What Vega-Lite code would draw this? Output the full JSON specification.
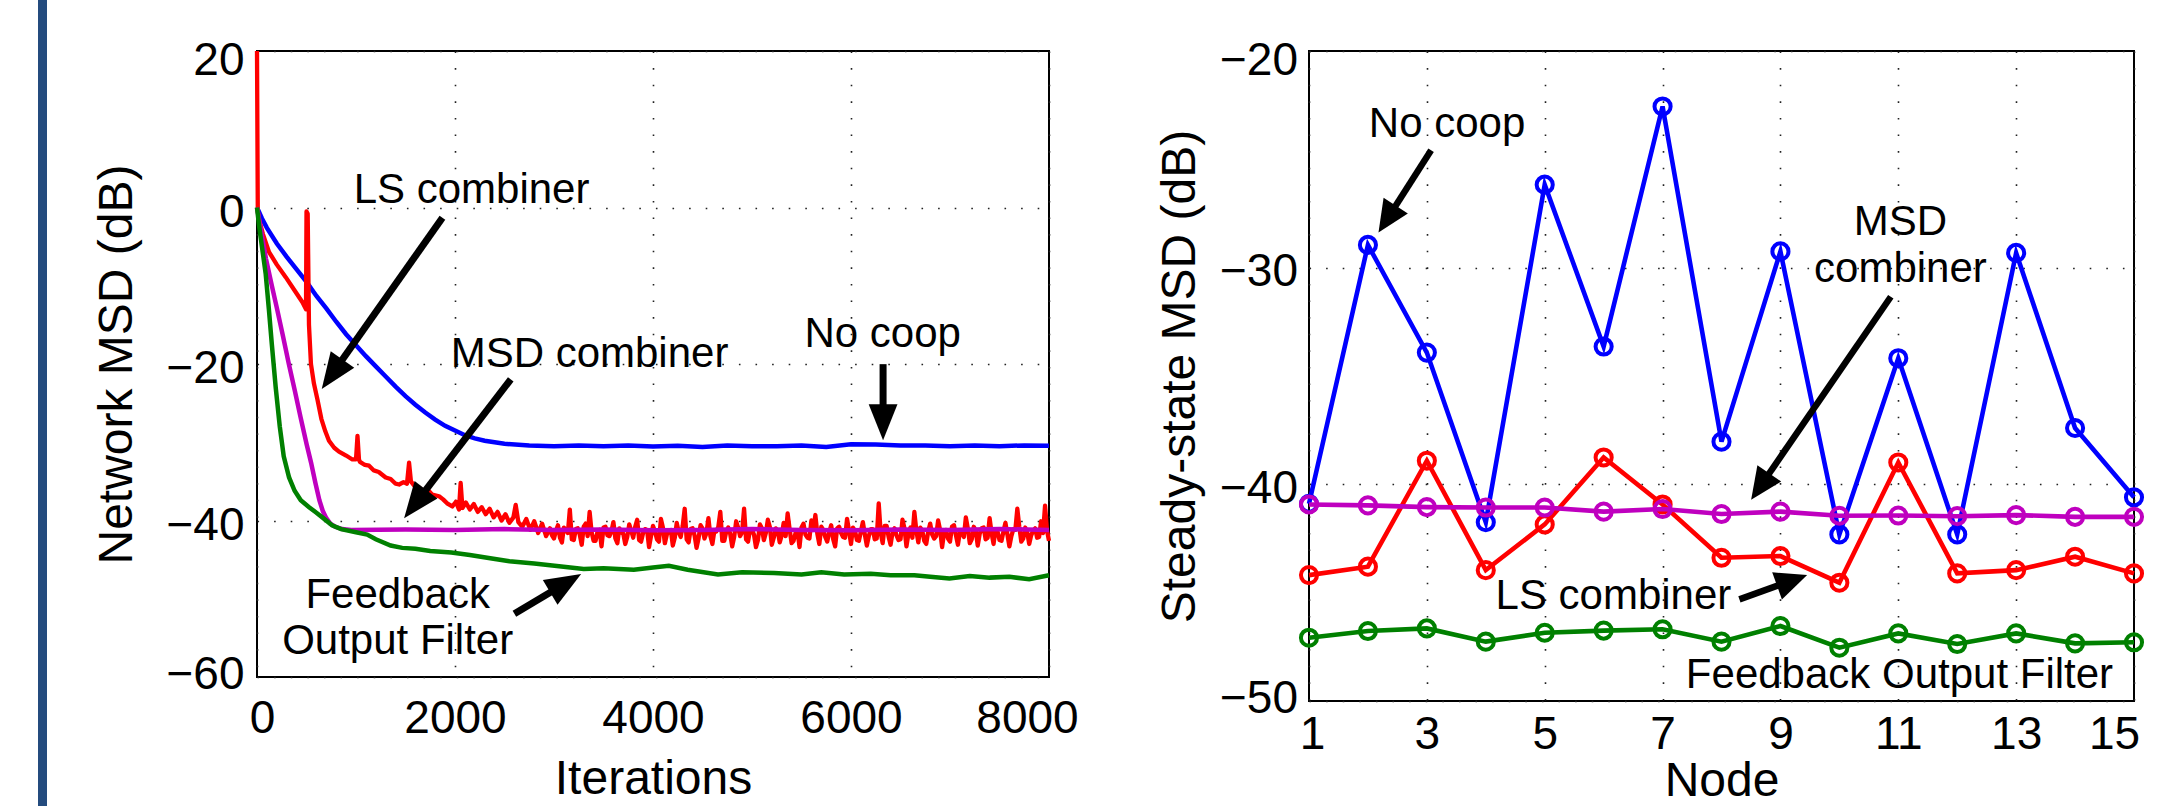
{
  "$schema": "https://vega.github.io/schema/vega-lite/v6.json",
  "background": "white",
  "padding": {"left": 38, "top": 0, "right": 0, "bottom": 0},
  "config": {
    "font": "Liberation Sans",
    "view": {"stroke": "black", "strokeWidth": 2},
    "axis": {
      "labelFont": "Liberation Sans", "titleFont": "Liberation Sans",
      "labelColor": "black", "titleColor": "black", "titleFontWeight": "normal",
      "labelFontSize": 46, "titleFontSize": 48, "domain": false, "ticks": false,
      "grid": true, "gridColor": "#222222", "gridWidth": 1.6, "gridDash": [1.6, 15], "gridOpacity": 1,
      "labelOverlap": false, "labelFlush": false, "labelBound": false
    }
  },
  "datasets": {
    "nc": [
      {"x":0,"y":0},{"x":50,"y":-1.4},{"x":100,"y":-2.6},{"x":200,"y":-4.6},{"x":300,"y":-6.3},{"x":400,"y":-7.9},{"x":500,"y":-9.5},{"x":600,"y":-11.3},{"x":700,"y":-12.9},{"x":800,"y":-14.6},{"x":900,"y":-16.2},{"x":1000,"y":-17.6},{"x":1100,"y":-19.0},{"x":1200,"y":-20.3},{"x":1300,"y":-21.6},{"x":1400,"y":-22.9},{"x":1500,"y":-24.1},{"x":1600,"y":-25.2},{"x":1700,"y":-26.2},{"x":1800,"y":-27.1},{"x":1900,"y":-27.9},{"x":2000,"y":-28.5},{"x":2100,"y":-29.1},{"x":2200,"y":-29.5},{"x":2300,"y":-29.8},{"x":2400,"y":-30.0},{"x":2500,"y":-30.2},{"x":2750,"y":-30.4},{"x":3000,"y":-30.5},{"x":3250,"y":-30.4},{"x":3500,"y":-30.5},{"x":3750,"y":-30.4},{"x":4000,"y":-30.55},{"x":4250,"y":-30.45},{"x":4500,"y":-30.6},{"x":4750,"y":-30.4},{"x":5000,"y":-30.5},{"x":5250,"y":-30.5},{"x":5500,"y":-30.4},{"x":5750,"y":-30.6},{"x":6000,"y":-30.25},{"x":6250,"y":-30.3},{"x":6500,"y":-30.4},{"x":6750,"y":-30.4},{"x":7000,"y":-30.5},{"x":7250,"y":-30.4},{"x":7500,"y":-30.5},{"x":7750,"y":-30.4},{"x":8000,"y":-30.45}
    ],
    "ls": [
      {"x":0,"y":20},{"x":8,"y":-0.5},{"x":20,"y":-1.5},{"x":60,"y":-3.4},{"x":122,"y":-5.7},{"x":200,"y":-7.3},{"x":290,"y":-8.9},{"x":380,"y":-10.6},{"x":459,"y":-12.1},{"x":495,"y":-13.0},{"x":500,"y":-0.5},{"x":512,"y":-0.8},{"x":525,"y":-15},{"x":545,"y":-20},{"x":575,"y":-22.5},{"x":610,"y":-24.5},{"x":650,"y":-27.0},{"x":690,"y":-28.6},{"x":727,"y":-29.8},{"x":780,"y":-30.7},{"x":828,"y":-31.2},{"x":900,"y":-31.7},{"x":963,"y":-32.2},{"x":1000,"y":-32.2},{"x":1015,"y":-29.2},{"x":1030,"y":-32.2},{"x":1040,"y":-32.5},{"x":1090,"y":-32.9},{"x":1132,"y":-33.0},{"x":1180,"y":-33.6},{"x":1230,"y":-33.8},{"x":1300,"y":-34.5},{"x":1350,"y":-34.7},{"x":1400,"y":-35.3},{"x":1435,"y":-35.4},{"x":1480,"y":-35.1},{"x":1515,"y":-35.3},{"x":1536,"y":-32.6},{"x":1555,"y":-35.0},{"x":1590,"y":-35.6},{"x":1637,"y":-35.8},{"x":1680,"y":-36.3},{"x":1720,"y":-36.0},{"x":1770,"y":-36.7},{"x":1839,"y":-36.9},{"x":1880,"y":-37.3},{"x":1920,"y":-37.8},{"x":1973,"y":-38.2},{"x":2010,"y":-37.6},{"x":2040,"y":-38.6},{"x":2057,"y":-35.2},{"x":2075,"y":-38.4},{"x":2110,"y":-37.7},{"x":2150,"y":-38.6},{"x":2190,"y":-37.9},{"x":2230,"y":-38.9},{"x":2270,"y":-38.3},{"x":2310,"y":-39.2},{"x":2350,"y":-38.5},{"x":2390,"y":-39.6},{"x":2430,"y":-38.9},{"x":2470,"y":-40.0},{"x":2510,"y":-39.2},{"x":2550,"y":-40.3},{"x":2590,"y":-39.6},{"x":2613,"y":-38.0},{"x":2640,"y":-40.2},{"x":2680,"y":-40.8},{"x":2720,"y":-39.8},{"x":2760,"y":-41.2},{"x":2800,"y":-40.1},{"x":2840,"y":-41.6},{"x":2880,"y":-40.4},{"x":2920,"y":-42.0},
      {"x":2960,"y":-41.0},{"x":3000,"y":-42.3},{"x":3040,"y":-40.6},{"x":3080,"y":-42.8},{"x":3120,"y":-41.2},{"x":3160,"y":-38.6},{"x":3200,"y":-42.5},{"x":3240,"y":-41.0},{"x":3280,"y":-43.1},{"x":3320,"y":-40.4},{"x":3360,"y":-38.9},{"x":3400,"y":-42.6},{"x":3440,"y":-41.4},{"x":3480,"y":-43.3},{"x":3520,"y":-40.8},{"x":3560,"y":-42.0},{"x":3600,"y":-40.2},{"x":3640,"y":-42.9},{"x":3680,"y":-41.5},{"x":3720,"y":-43.0},{"x":3760,"y":-40.5},{"x":3800,"y":-42.2},{"x":3840,"y":-39.9},{"x":3880,"y":-42.7},{"x":3920,"y":-41.1},{"x":3960,"y":-43.4},{"x":4000,"y":-40.7},{"x":4040,"y":-42.4},{"x":4080,"y":-39.8},{"x":4120,"y":-42.9},{"x":4160,"y":-41.3},{"x":4200,"y":-43.2},{"x":4240,"y":-40.3},{"x":4280,"y":-42.1},{"x":4320,"y":-38.5},{"x":4360,"y":-42.8},{"x":4400,"y":-41.0},{"x":4440,"y":-43.5},{"x":4480,"y":-40.6},{"x":4520,"y":-42.3},{"x":4560,"y":-39.7},{"x":4600,"y":-43.0},{"x":4640,"y":-41.4},{"x":4680,"y":-38.9},{"x":4720,"y":-42.6},{"x":4760,"y":-40.9},{"x":4800,"y":-43.3},{"x":4840,"y":-40.1},{"x":4880,"y":-42.0},{"x":4920,"y":-38.5},{"x":4960,"y":-42.7},{"x":5000,"y":-41.2},{"x":5040,"y":-43.4},{"x":5080,"y":-40.5},{"x":5120,"y":-42.5},{"x":5160,"y":-39.9},{"x":5200,"y":-43.1},{"x":5240,"y":-41.0},{"x":5280,"y":-42.8},{"x":5320,"y":-40.3},{"x":5360,"y":-39.1},{"x":5400,"y":-42.9},{"x":5440,"y":-41.6},{"x":5480,"y":-43.4},{"x":5520,"y":-40.4},{"x":5560,"y":-42.2},{"x":5600,"y":-40.0},{"x":5640,"y":-39.3},{"x":5680,"y":-43.0},{"x":5720,"y":-41.2},{"x":5760,"y":-42.7},{"x":5800,"y":-40.6},{"x":5840,"y":-43.3},{"x":5880,"y":-40.8},{"x":5920,"y":-42.1},{"x":5960,"y":-39.8},{"x":6000,"y":-43.0},{"x":6040,"y":-41.3},{"x":6080,"y":-42.6},{"x":6120,"y":-40.2},{"x":6160,"y":-43.2},{"x":6200,"y":-41.1},{"x":6240,"y":-42.4},{"x":6280,"y":-37.8},{"x":6320,"y":-42.9},{"x":6360,"y":-40.7},{"x":6400,"y":-43.1},{"x":6440,"y":-41.0},{"x":6480,"y":-42.5},{"x":6520,"y":-39.9},{"x":6560,"y":-43.3},{"x":6600,"y":-40.9},{"x":6640,"y":-38.9},{"x":6680,"y":-42.8},{"x":6720,"y":-41.3},{"x":6760,"y":-43.0},{"x":6800,"y":-40.4},{"x":6840,"y":-42.3},{"x":6880,"y":-40.0},{"x":6920,"y":-43.4},{"x":6960,"y":-41.2},{"x":7000,"y":-42.7},{"x":7040,"y":-40.6},{"x":7080,"y":-43.1},{"x":7120,"y":-41.5},{"x":7160,"y":-39.6},{"x":7200,"y":-42.9},{"x":7240,"y":-40.8},{"x":7280,"y":-43.2},{"x":7320,"y":-41.0},{"x":7360,"y":-42.4},{"x":7400,"y":-39.7},{"x":7440,"y":-43.0},{"x":7480,"y":-41.4},{"x":7520,"y":-42.6},{"x":7560,"y":-40.3},{"x":7600,"y":-43.3},{"x":7640,"y":-41.1},{"x":7680,"y":-38.5},{"x":7720,"y":-42.7},{"x":7760,"y":-40.9},{"x":7800,"y":-43.0},{"x":7840,"y":-41.3},{"x":7880,"y":-42.2},{"x":7920,"y":-40.1},{"x":7960,"y":-38.1},{"x":8000,"y":-42.6},
      {"x":2980,"y":-41.9},{"x":3020,"y":-41.3},{"x":3060,"y":-42.2},{"x":3100,"y":-40.9},{"x":3140,"y":-41.6},{"x":3180,"y":-42.4},{"x":3220,"y":-41.1},{"x":3260,"y":-41.8},{"x":3300,"y":-40.8},{"x":3340,"y":-42.0},{"x":3380,"y":-41.5},{"x":3420,"y":-42.6},{"x":3460,"y":-41.2},{"x":3500,"y":-40.9},{"x":3540,"y":-41.9},{"x":3580,"y":-41.4},{"x":3620,"y":-42.3},{"x":3660,"y":-41.0},{"x":3700,"y":-41.7},{"x":3740,"y":-42.1},{"x":3780,"y":-41.3},{"x":3820,"y":-40.8},{"x":3860,"y":-42.5},{"x":3900,"y":-41.6},{"x":3940,"y":-41.2},{"x":3980,"y":-42.0},{"x":4020,"y":-41.4},{"x":4060,"y":-42.7},{"x":4100,"y":-40.9},{"x":4140,"y":-41.8},{"x":4180,"y":-41.2},{"x":4220,"y":-42.2},{"x":4260,"y":-41.5},{"x":4300,"y":-40.7},{"x":4340,"y":-42.4},{"x":4380,"y":-41.1},{"x":4420,"y":-41.9},{"x":4460,"y":-42.3},{"x":4500,"y":-41.0},{"x":4540,"y":-41.6},{"x":4580,"y":-42.0},{"x":4620,"y":-41.3},{"x":4660,"y":-40.8},{"x":4700,"y":-42.6},{"x":4740,"y":-41.4},{"x":4780,"y":-41.7},{"x":4820,"y":-42.1},{"x":4860,"y":-40.9},{"x":4900,"y":-41.5},{"x":4940,"y":-42.4},{"x":4980,"y":-41.2},{"x":5020,"y":-41.8},{"x":5060,"y":-42.5},{"x":5100,"y":-41.0},{"x":5140,"y":-41.6},{"x":5180,"y":-40.8},{"x":5220,"y":-42.2},{"x":5260,"y":-41.3},{"x":5300,"y":-41.9},{"x":5340,"y":-42.0},{"x":5380,"y":-41.1},{"x":5420,"y":-42.6},{"x":5460,"y":-41.4},{"x":5500,"y":-40.9},{"x":5540,"y":-41.8},{"x":5580,"y":-42.3},{"x":5620,"y":-41.2},{"x":5660,"y":-41.7},{"x":5700,"y":-40.8},{"x":5740,"y":-42.1},{"x":5780,"y":-41.5},{"x":5820,"y":-42.4},{"x":5860,"y":-41.0},{"x":5900,"y":-41.6},{"x":5940,"y":-42.2},{"x":5980,"y":-41.3},{"x":6020,"y":-40.9},{"x":6060,"y":-42.5},{"x":6100,"y":-41.4},{"x":6140,"y":-41.8},{"x":6180,"y":-42.0},{"x":6220,"y":-41.1},{"x":6260,"y":-42.3},{"x":6300,"y":-41.6},{"x":6340,"y":-40.7},{"x":6380,"y":-42.1},{"x":6420,"y":-41.5},{"x":6460,"y":-41.9},{"x":6500,"y":-42.4},{"x":6540,"y":-41.0},{"x":6580,"y":-41.7},{"x":6620,"y":-42.2},{"x":6660,"y":-41.3},{"x":6700,"y":-40.9},{"x":6740,"y":-42.6},{"x":6780,"y":-41.4},{"x":6820,"y":-41.8},{"x":6860,"y":-42.0},{"x":6900,"y":-41.2},{"x":6940,"y":-41.6},{"x":6980,"y":-42.3},{"x":7020,"y":-40.8},{"x":7060,"y":-41.9},{"x":7100,"y":-41.5},{"x":7140,"y":-42.1},{"x":7180,"y":-41.0},{"x":7220,"y":-42.4},{"x":7260,"y":-41.3},{"x":7300,"y":-41.7},{"x":7340,"y":-40.9},{"x":7380,"y":-42.2},{"x":7420,"y":-41.6},{"x":7460,"y":-41.1},{"x":7500,"y":-42.5},{"x":7540,"y":-41.4},{"x":7580,"y":-41.8},{"x":7620,"y":-42.0},{"x":7660,"y":-41.2},{"x":7700,"y":-40.8},{"x":7740,"y":-42.3},{"x":7780,"y":-41.5},{"x":7820,"y":-41.9},{"x":7860,"y":-41.0},{"x":7900,"y":-42.1},{"x":7940,"y":-41.6},{"x":7980,"y":-41.3}
    ],
    "ms": [
      {"x":0,"y":0},{"x":30,"y":-2.2},{"x":90,"y":-6.5},{"x":150,"y":-10.0},{"x":200,"y":-12.8},{"x":260,"y":-16.3},{"x":320,"y":-19.9},{"x":380,"y":-23.3},{"x":440,"y":-26.8},{"x":500,"y":-30.2},{"x":546,"y":-32.6},{"x":590,"y":-35.2},{"x":630,"y":-37.4},{"x":665,"y":-38.8},{"x":700,"y":-39.7},{"x":740,"y":-40.4},{"x":790,"y":-40.8},{"x":860,"y":-41.1},{"x":950,"y":-41.2},{"x":1500,"y":-41.15},{"x":2000,"y":-41.2},{"x":2500,"y":-41.1},{"x":3000,"y":-41.2},{"x":3500,"y":-41.15},{"x":4000,"y":-41.25},{"x":4500,"y":-41.2},{"x":5000,"y":-41.1},{"x":5500,"y":-41.2},{"x":6000,"y":-41.25},{"x":6500,"y":-41.15},{"x":7000,"y":-41.2},{"x":7500,"y":-41.1},{"x":8000,"y":-41.2}
    ],
    "fb": [
      {"x":0,"y":0},{"x":20,"y":-2.2},{"x":50,"y":-5.0},{"x":88,"y":-8.5},{"x":120,"y":-13.0},{"x":150,"y":-17.5},{"x":189,"y":-23.0},{"x":230,"y":-28.0},{"x":270,"y":-31.8},{"x":324,"y":-34.5},{"x":380,"y":-36.2},{"x":442,"y":-37.4},{"x":526,"y":-38.3},{"x":600,"y":-39.0},{"x":660,"y":-39.6},{"x":758,"y":-40.6},{"x":850,"y":-41.1},{"x":1000,"y":-41.5},{"x":1113,"y":-41.8},{"x":1200,"y":-42.4},{"x":1350,"y":-43.2},{"x":1467,"y":-43.5},{"x":1600,"y":-43.6},{"x":1750,"y":-43.9},{"x":1963,"y":-44.1},{"x":2150,"y":-44.4},{"x":2388,"y":-44.9},{"x":2550,"y":-45.2},{"x":2800,"y":-45.5},{"x":3097,"y":-45.9},{"x":3300,"y":-46.2},{"x":3500,"y":-46.1},{"x":3806,"y":-46.3},{"x":4000,"y":-46.0},{"x":4160,"y":-45.8},{"x":4350,"y":-46.3},{"x":4656,"y":-46.9},{"x":4900,"y":-46.6},{"x":5223,"y":-46.7},{"x":5500,"y":-46.9},{"x":5700,"y":-46.6},{"x":5931,"y":-46.9},{"x":6200,"y":-46.8},{"x":6400,"y":-47.0},{"x":6640,"y":-47.0},{"x":6800,"y":-47.2},{"x":6994,"y":-47.4},{"x":7200,"y":-47.1},{"x":7400,"y":-47.3},{"x":7600,"y":-47.2},{"x":7800,"y":-47.5},{"x":8000,"y":-47.0}
    ],
    "leftText": [
      {"x":2167,"y":0.56,"label":"LS combiner"},
      {"x":3359,"y":-20.33,"label":"MSD combiner"},
      {"x":6320,"y":-17.87,"label":"No coop"},
      {"x":1421,"y":-51.22,"label":"Feedback"},
      {"x":1421,"y":-57.1,"label":"Output Filter"}
    ],
    "leftArrows": [
      {"x":1873,"y":-1.30,"x2":770,"y2":-21.10},
      {"x":2563,"y":-21.97,"x2":1609,"y2":-37.68},
      {"x":6324,"y":-20.02,"x2":6324,"y2":-27.18},
      {"x":2600,"y":-51.91,"x2":3100,"y2":-48.15}
    ],
    "n_nc": [
      {"x":1,"y":-40.9},{"x":2,"y":-28.95},{"x":3,"y":-33.92},{"x":4,"y":-41.75},{"x":5,"y":-26.17},{"x":6,"y":-33.64},{"x":7,"y":-22.56},{"x":8,"y":-38.03},{"x":9,"y":-29.25},{"x":10,"y":-42.31},{"x":11,"y":-34.18},{"x":12,"y":-42.31},{"x":13,"y":-29.32},{"x":14,"y":-37.40},{"x":15,"y":-40.60}
    ],
    "n_ls": [
      {"x":1,"y":-44.19},{"x":2,"y":-43.80},{"x":3,"y":-38.91},{"x":4,"y":-43.96},{"x":5,"y":-41.85},{"x":6,"y":-38.76},{"x":7,"y":-40.93},{"x":8,"y":-43.39},{"x":9,"y":-43.31},{"x":10,"y":-44.54},{"x":11,"y":-38.99},{"x":12,"y":-44.11},{"x":13,"y":-43.96},{"x":14,"y":-43.34},{"x":15,"y":-44.11}
    ],
    "n_ms": [
      {"x":1,"y":-40.93},{"x":2,"y":-40.97},{"x":3,"y":-41.05},{"x":4,"y":-41.07},{"x":5,"y":-41.07},{"x":6,"y":-41.26},{"x":7,"y":-41.14},{"x":8,"y":-41.37},{"x":9,"y":-41.26},{"x":10,"y":-41.45},{"x":11,"y":-41.44},{"x":12,"y":-41.47},{"x":13,"y":-41.42},{"x":14,"y":-41.50},{"x":15,"y":-41.50}
    ],
    "n_fb": [
      {"x":1,"y":-47.08},{"x":2,"y":-46.77},{"x":3,"y":-46.65},{"x":4,"y":-47.26},{"x":5,"y":-46.85},{"x":6,"y":-46.75},{"x":7,"y":-46.69},{"x":8,"y":-47.26},{"x":9,"y":-46.54},{"x":10,"y":-47.54},{"x":11,"y":-46.88},{"x":12,"y":-47.37},{"x":13,"y":-46.88},{"x":14,"y":-47.34},{"x":15,"y":-47.29}
    ],
    "rightText": [
      {"x":3.343,"y":-23.97,"label":"No coop"},
      {"x":11.036,"y":-28.50,"label":"MSD"},
      {"x":11.036,"y":-30.68,"label":"combiner"},
      {"x":6.166,"y":-45.77,"label":"LS combiner"},
      {"x":11.02,"y":-49.41,"label":"Feedback Output Filter"}
    ],
    "rightArrows": [
      {"x":3.072,"y":-24.585,"x2":2.362,"y2":-27.606},
      {"x":10.873,"y":-31.342,"x2":8.694,"y2":-39.949},
      {"x":8.304,"y":-45.309,"x2":9.135,"y2":-44.497}
    ]
  },
  "spacing": 45,
  "hconcat": [
    {
      "width": 9, "height": 806,
      "view": {"fill": "#244b7e", "stroke": null},
      "data": {"values": [{"k": 0}]},
      "mark": {"type": "point", "opacity": 0},
      "encoding": {}
    },
    {
      "spacing": 0,
      "vconcat": [
        {
          "width": 10, "height": 36,
          "view": {"fill": "white", "stroke": null},
          "data": {"values": [{"k": 0}]},
          "mark": {"type": "point", "opacity": 0},
          "encoding": {}
        },
        {
          "spacing": 75,
          "hconcat": [
            {
              "width": 792, "height": 626,
              "encoding": {
                "x": {"field": "x", "type": "quantitative",
                  "scale": {"domain": [0, 8000], "nice": false, "zero": false},
                  "axis": {"title": "Iterations", "values": [0, 2000, 4000, 6000, 8000], "format": "d",
                    "labelPadding": 19, "titlePadding": 14,
                    "labelOffset": {"condition": [{"test": "datum.value === 0", "value": 5}, {"test": "datum.value === 8000", "value": -22}], "value": 0}}},
                "y": {"field": "y", "type": "quantitative",
                  "scale": {"domain": [-60, 20], "nice": false, "zero": false},
                  "axis": {"title": "Network MSD (dB)", "values": [-60, -40, -20, 0, 20], "format": "d",
                    "labelPadding": 13, "titlePadding": 24,
                    "labelOffset": {"condition": [{"test": "datum.value === 20", "value": 9.5}, {"test": "datum.value === -60", "value": -3}], "value": 4.5}}}
              },
              "layer": [
                {"data": {"name": "nc"}, "mark": {"type": "line", "color": "#0000ff", "strokeWidth": 4.5}},
                {"data": {"name": "ls"}, "mark": {"type": "line", "color": "#ff0000", "strokeWidth": 4.3, "strokeJoin": "round"}},
                {"data": {"name": "ms"}, "mark": {"type": "line", "color": "#bf00bf", "strokeWidth": 4.5}},
                {"data": {"name": "fb"}, "mark": {"type": "line", "color": "#008000", "strokeWidth": 4.5}},
                {"data": {"name": "leftArrows"}, "mark": {"type": "rule", "color": "black", "strokeWidth": 7},
                  "encoding": {"x2": {"field": "x2"}, "y2": {"field": "y2"}}},
                {"data": {"values": [{"x": 654, "y": -23.18}]}, "mark": {"type": "point", "shape": "M0,0L0.4,1L-0.4,1Z", "size": 5184, "angle": 215.2, "filled": true, "color": "black", "opacity": 1, "strokeWidth": 0}},
                {"data": {"values": [{"x": 1486, "y": -39.71}]}, "mark": {"type": "point", "shape": "M0,0L0.4,1L-0.4,1Z", "size": 5184, "angle": 217.5, "filled": true, "color": "black", "opacity": 1, "strokeWidth": 0}},
                {"data": {"values": [{"x": 6324, "y": -29.74}]}, "mark": {"type": "point", "shape": "M0,0L0.4,1L-0.4,1Z", "size": 5184, "angle": 180, "filled": true, "color": "black", "opacity": 1, "strokeWidth": 0}},
                {"data": {"values": [{"x": 3274, "y": -46.85}]}, "mark": {"type": "point", "shape": "M0,0L0.4,1L-0.4,1Z", "size": 5184, "angle": 59.3, "filled": true, "color": "black", "opacity": 1, "strokeWidth": 0}},
                {"data": {"name": "leftText"}, "mark": {"type": "text", "fontSize": 42, "font": "Liberation Sans", "align": "center", "baseline": "alphabetic", "color": "black"},
                  "encoding": {"text": {"field": "label"}}}
              ]
            },
            {
              "width": 825, "height": 650,
              "encoding": {
                "x": {"field": "x", "type": "quantitative",
                  "scale": {"domain": [1, 15], "nice": false, "zero": false},
                  "axis": {"title": "Node", "values": [1, 3, 5, 7, 9, 11, 13, 15], "format": "d",
                    "labelPadding": 11, "titlePadding": 0,
                    "labelOffset": {"condition": [{"test": "datum.value === 1", "value": 3}, {"test": "datum.value === 15", "value": -20}], "value": 0}}},
                "y": {"field": "y", "type": "quantitative",
                  "scale": {"domain": [-50, -20], "nice": false, "zero": false},
                  "axis": {"title": "Steady-state MSD (dB)", "values": [-50, -40, -30, -20], "format": "d",
                    "labelPadding": 11.5, "titlePadding": 14.5,
                    "labelOffset": {"condition": [{"test": "datum.value === -20", "value": 9}, {"test": "datum.value === -50", "value": -3}], "value": 4}}}
              },
              "layer": [
                {"data": {"name": "n_nc"}, "mark": {"type": "line", "color": "#0000ff", "strokeWidth": 4.6, "point": {"filled": false, "size": 260, "strokeWidth": 4, "color": "#0000ff"}}},
                {"data": {"name": "n_ls"}, "mark": {"type": "line", "color": "#ff0000", "strokeWidth": 4.6, "point": {"filled": false, "size": 260, "strokeWidth": 4, "color": "#ff0000"}}},
                {"data": {"name": "n_ms"}, "mark": {"type": "line", "color": "#bf00bf", "strokeWidth": 4.6, "point": {"filled": false, "size": 260, "strokeWidth": 4, "color": "#bf00bf"}}},
                {"data": {"name": "n_fb"}, "mark": {"type": "line", "color": "#008000", "strokeWidth": 4.6, "point": {"filled": false, "size": 260, "strokeWidth": 4, "color": "#008000"}}},
                {"data": {"name": "rightArrows"}, "mark": {"type": "rule", "color": "black", "strokeWidth": 6.5},
                  "encoding": {"x2": {"field": "x2"}, "y2": {"field": "y2"}}},
                {"data": {"values": [{"x": 2.179, "y": -28.381}]}, "mark": {"type": "point", "shape": "M0,0L0.45,1L-0.45,1Z", "size": 4096, "angle": 212.6, "filled": true, "color": "black", "opacity": 1, "strokeWidth": 0}},
                {"data": {"values": [{"x": 8.503, "y": -40.71}]}, "mark": {"type": "point", "shape": "M0,0L0.45,1L-0.45,1Z", "size": 4096, "angle": 214.5, "filled": true, "color": "black", "opacity": 1, "strokeWidth": 0}},
                {"data": {"values": [{"x": 9.454, "y": -44.188}]}, "mark": {"type": "point", "shape": "M0,0L0.45,1L-0.45,1Z", "size": 4096, "angle": 70.3, "filled": true, "color": "black", "opacity": 1, "strokeWidth": 0}},
                {"data": {"name": "rightText"}, "mark": {"type": "text", "fontSize": 42, "font": "Liberation Sans", "align": "center", "baseline": "alphabetic", "color": "black"},
                  "encoding": {"text": {"field": "label"}}}
              ]
            }
          ]
        }
      ]
    }
  ]
}
